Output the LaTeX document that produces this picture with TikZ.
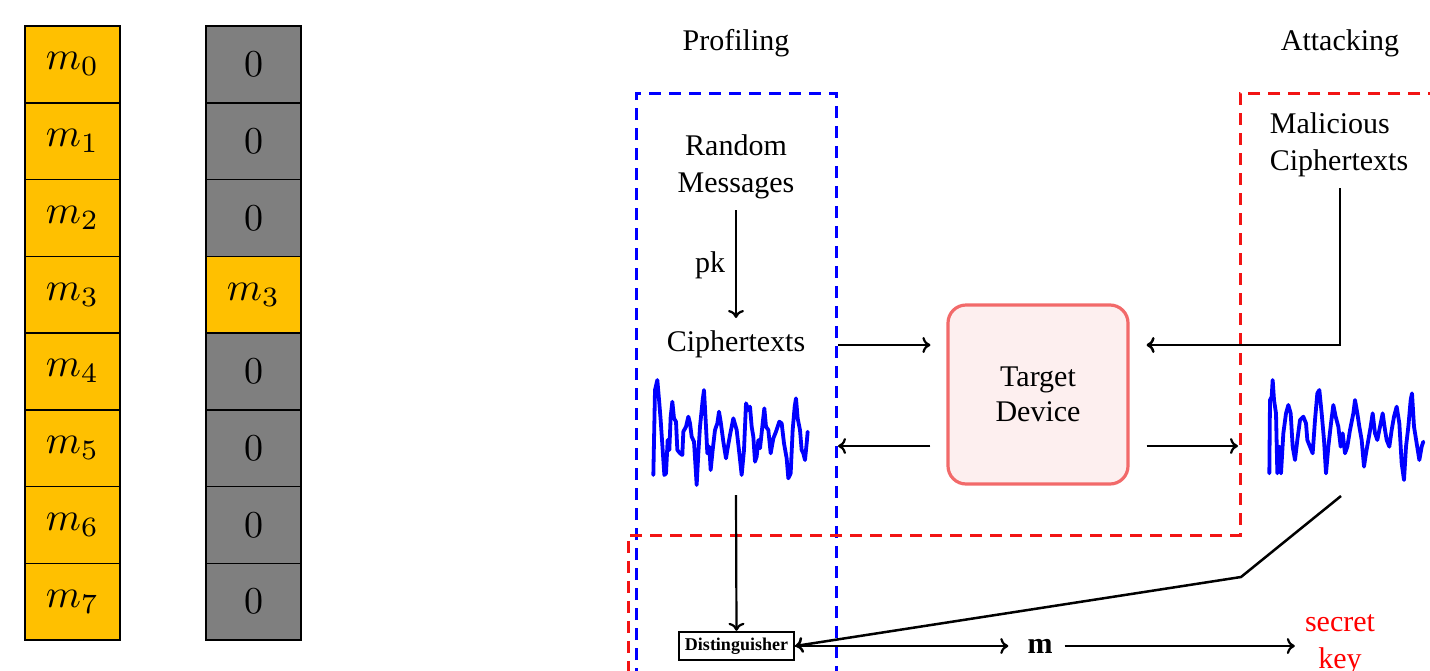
\documentclass[tikz,border=0pt]{standalone}
\usepackage{fontspec}
\setmainfont{Liberation Serif}
\usetikzlibrary{arrows.meta,calc}
\definecolor{cellyellow}{HTML}{FFC000}
\definecolor{cellgray}{HTML}{7F7F7F}
\definecolor{tdborder}{HTML}{F26A6A}
\definecolor{tdfill}{HTML}{FDEFEF}
\definecolor{waveblue}{HTML}{0000FF}
\definecolor{framered}{HTML}{F21414}
\newcommand{\cellmath}[1]{\scalebox{4.0}{$#1$}}
\newcommand{\celldigit}[1]{\scalebox{3.8}{$#1$}}
\begin{document}
\begin{tikzpicture}[x=1pt,y=-1pt,
  cellY/.style={draw=black, line width=1.5pt, fill=cellyellow, minimum width=95pt, minimum height=76.75pt, inner sep=0pt},
  cellG/.style={cellY, fill=cellgray},
  txt/.style={font=\fontsize{30}{37}\selectfont, align=center, inner sep=0pt},
  frame/.style={line width=3pt, dash pattern=on 12pt off 8pt},
  arr/.style={line width=2.2pt, -{To[length=8pt,width=16pt]}},
  tdbox/.style={draw=tdborder, fill=tdfill, line width=3.2pt, rounded corners=18pt, minimum width=180pt, minimum height=179pt, font=\fontsize{30}{35}\selectfont, align=center},
  distbox/.style={draw=black, line width=2.4pt, minimum width=115pt, minimum height=28pt, inner sep=1pt, font=\fontsize{18}{20}\selectfont\bfseries},
  wave/.style={draw=waveblue, line width=3.8pt, line join=round, line cap=round}
]
\useasboundingbox (0,0) rectangle (1430,670);

% left columns
\foreach \i in {0,...,7} {
  \node[cellY] (a\i) at (72.5,{26+76.75*(\i+0.5)}) {\cellmath{m_{\i}}};
}
\foreach \i in {0,1,2,4,5,6,7} {
  \node[cellG] (b\i) at (253.5,{26+76.75*(\i+0.5)}) {\celldigit{0}};
}
\node[cellY] (b3) at (253.5,{26+76.75*3.5}) {\cellmath{m_3}};

% frames
\begin{scope}
\clip (0,0) rectangle (1430,670);
\draw[frame, waveblue] (636,700) -- (636,93) -- (836,93) -- (836,700);
\draw[frame, framered] (1440,93) -- (1240,93) -- (1240,535) -- (628,535) -- (628,700);
\end{scope}

% texts
\node[txt] (prof) at (736,43) {Profiling};
\node[txt] (att) at (1340,43) {Attacking};
\node[txt] (rm) at (736,167) {Random\\Messages};
\node[txt] (ct) at (736,344) {Ciphertexts};
\node[txt] (pk) at (710,265) {pk};
\node[txt, align=left] (mc) at (1339,145) {Malicious\\Ciphertexts};
\node[tdbox] (td) at (1038,394.5) {Target\\Device};
\node[distbox] (dist) at (736.5,646) {Distinguisher};
\node[txt] (m) at (1040,646) {\textbf{m}};
\node[txt, text=red] (sk) at (1340,645) {secret\\key};

% waveforms
\begin{scope}[shift={(620,360)}, scale=1/3]
\draw[wave] plot coordinates {(100,345) (105,90) (112,60) (118,130) (122,180) (128,270) (133,345) (138,340) (143,240) (148,270) (152,170) (157,125) (162,175) (168,185) (172,270) (180,280) (187,285) (190,215) (198,200) (205,170) (210,190) (215,230) (222,245) (230,375) (235,280) (240,200) (248,120) (252,90) (258,200) (262,280) (268,260) (272,330) (278,270) (285,210) (292,190) (297,155) (302,185) (310,245) (318,295) (322,270) (330,225) (340,175) (350,210) (358,280) (365,345) (372,270) (378,130) (385,150) (390,140) (395,200) (400,230) (405,305) (410,290) (415,240) (420,265) (428,190) (433,145) (438,200) (445,210) (452,280) (460,235) (468,215) (478,185) (485,190) (492,250) (500,295) (505,355) (512,340) (518,210) (524,140) (528,115) (533,175) (540,210) (545,270) (550,280) (555,300) (560,250) (563,215)};
\end{scope}
\begin{scope}[shift={(1220,80)}, scale=1/3]
\draw[wave] plot coordinates {(148,1180) (150,960) (155,950) (158,900) (162,960) (168,1000) (172,1180) (178,1100) (183,1180) (190,1060) (198,1000) (205,975) (212,1000) (218,1100) (225,1140) (232,1080) (240,1020) (250,1010) (258,1030) (262,1080) (270,1100) (278,1120) (285,1020) (292,940) (298,930) (305,1000) (312,1080) (318,1180) (325,1100) (333,1030) (340,975) (347,1010) (355,1040) (362,1100) (368,1060) (375,1120) (382,1100) (390,1050) (396,1020) (400,1000) (405,960) (412,1000) (418,1040) (425,1080) (432,1160) (438,1120) (445,1080) (452,1040) (458,1000) (465,1060) (472,1080) (480,1040) (488,1000) (495,1050) (500,1080) (508,1100) (515,1050) (522,1010) (530,980) (538,1030) (545,1150) (552,1200) (558,1100) (565,1040) (572,960) (576,940) (582,1040) (590,1090) (598,1140) (605,1100) (610,1085)};
\end{scope}

% anchor coordinates
\coordinate (pkA) at (736,210);
\coordinate (pkB) at (736,318);
\coordinate (ctR) at (838,345);
\coordinate (mcB) at (1340,188);
\coordinate (mcC) at (1340,345);
\coordinate (wlR) at (838,446);
\coordinate (wrL) at (1238,446);
\coordinate (wlB) at (736,495);
\coordinate (wrB) at (1341,496);
\coordinate (knee) at (1241,577);

% connectors
\draw[arr] (pkA) -- (pkB);
\draw[arr, shorten >=16pt] (ctR) -- (ctR -| td.west);
\draw[arr, line width=2.5pt, shorten >=17pt] (mcB) -- (mcC) -- (mcC -| td.east);
\draw[arr, shorten <=16pt] (wlR -| td.west) -- (wlR);
\draw[arr, shorten <=17pt] (wrL -| td.east) -- (wrL);
\draw[arr] (wlB) -- (dist.north);
\draw[arr, line width=2.5pt] (wrB) -- (knee) -- (dist.east);
\draw[arr, shorten >=19pt] (dist.east) -- (m.west);
\draw[arr, shorten <=12pt, shorten >=10pt] (m.east) -- (m.east -| sk.west);
\end{tikzpicture}
\end{document}
